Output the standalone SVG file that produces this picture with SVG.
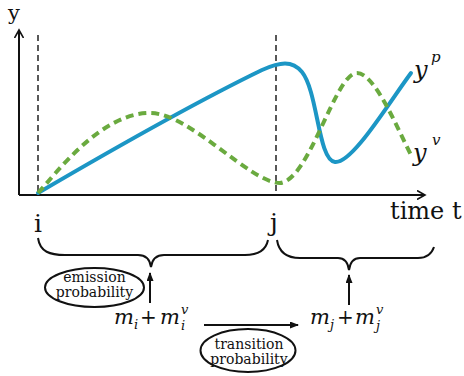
<svg xmlns="http://www.w3.org/2000/svg" width="464" height="376" viewBox="0 0 464 376">
<defs>
<style>
.ax{stroke:#111;stroke-width:2;fill:none}
.vd{stroke:#222;stroke-width:1.5;stroke-dasharray:6 4;fill:none}
.blue{stroke:#1C96C5;stroke-width:4;fill:none;stroke-linecap:round}
.green{stroke:#6AAA3F;stroke-width:4;fill:none;stroke-dasharray:8 5}
.br{stroke:#111;stroke-width:2;fill:none}
.ar{stroke:#111;stroke-width:2;fill:none}
.el{stroke:#111;stroke-width:2;fill:#fff}
.t{font-family:"DejaVu Serif","Liberation Serif",serif;fill:#111}
.et{font-family:"DejaVu Serif","Liberation Serif",serif;font-size:14px;fill:#111;text-anchor:middle}
.mi{font-family:"DejaVu Serif","Liberation Serif",serif;font-style:italic;fill:#111}
</style>
<marker id="open" markerWidth="10" markerHeight="10" refX="8" refY="5" orient="auto" markerUnits="userSpaceOnUse">
<path d="M0,0.5 L8,5 L0,9.5" fill="none" stroke="#111" stroke-width="1.6"/>
</marker>
<marker id="fill" markerWidth="9" markerHeight="7" refX="8" refY="3.5" orient="auto" markerUnits="userSpaceOnUse">
<path d="M0,0 L9,3.5 L0,7 z" fill="#111"/>
</marker>
</defs>

<g id="chart">
<line class="ax" x1="19" y1="195" x2="19" y2="30" marker-end="url(#open)"/>
<line class="ax" x1="19" y1="195" x2="425" y2="195" marker-end="url(#open)"/>
<line class="vd" x1="38" y1="35" x2="38" y2="194"/>
<line class="vd" x1="276" y1="35" x2="276" y2="194"/>
<path class="blue" d="M38,193 C120,145 200,100 262,70 C280,62 292,60 302,72 C318,92 318,160 335,162 C352,164 388,104 411,73"/>
<path class="green" d="M38,193 C55,175 100,113 150,113 C190,113 250,183 280,183 C310,180 335,73 357,73 C375,73 398,130 411,155"/>
<text class="t" x="8" y="20" font-size="21">y</text>
<text class="t" x="390" y="219" font-size="24">time t</text>
<text class="t" x="38" y="232" font-size="25" text-anchor="middle">i</text>
<text class="t" x="274" y="231" font-size="25" text-anchor="middle">j</text>
<text class="mi" x="414" y="78" font-size="24">y</text>
<text class="mi" x="431" y="62" font-size="15">p</text>
<text class="mi" x="413" y="161" font-size="24">y</text>
<text class="mi" x="432" y="145" font-size="15">v</text>
</g>

<g id="connectors">
<path class="br" d="M38,238 C40,252 50,255 65,255 L138,255 C146,255 150,260 151,267 C152,260 156,255 164,255 L245,255 C258,255 266,250 268,240"/>
<path class="br" d="M277,240 C279,253 288,258 300,258 L338,258 C345,258 348,263 349,270 C350,263 353,258 360,258 L418,258 C428,258 432,253 434,247"/>
<line class="ar" x1="150" y1="303" x2="150" y2="273" marker-end="url(#fill)"/>
<line class="ar" x1="349" y1="305" x2="349" y2="275" marker-end="url(#fill)"/>
<line class="ar" x1="204" y1="325" x2="298" y2="325" stroke-width="2.5" marker-end="url(#fill)"/>
</g>

<g id="emission">
<ellipse class="el" cx="94.5" cy="287.5" rx="49.5" ry="19.5"/>
<text class="et" x="94.5" y="282">emission</text>
<text class="et" x="94.5" y="297">probability</text>
</g>

<g id="transition">
<ellipse class="el" cx="248" cy="350.5" rx="47.5" ry="21.5"/>
<text class="et" x="249" y="349">transition</text>
<text class="et" x="249" y="364">probability</text>
</g>

<g id="state-i">
<text class="mi" x="114" y="324" font-size="21">m</text>
<text class="mi" x="134" y="329" font-size="13">i</text>
<text class="t" x="140" y="324" font-size="20">+</text>
<text class="mi" x="160" y="324" font-size="21">m</text>
<text class="mi" x="181" y="314" font-size="13">v</text>
<text class="mi" x="181" y="330" font-size="13">i</text>
</g>

<g id="state-j">
<text class="mi" x="310" y="324" font-size="21">m</text>
<text class="mi" x="330" y="329" font-size="13">j</text>
<text class="t" x="337" y="324" font-size="20">+</text>
<text class="mi" x="355" y="324" font-size="21">m</text>
<text class="mi" x="376" y="314" font-size="13">v</text>
<text class="mi" x="376" y="330" font-size="13">j</text>
</g>
</svg>
